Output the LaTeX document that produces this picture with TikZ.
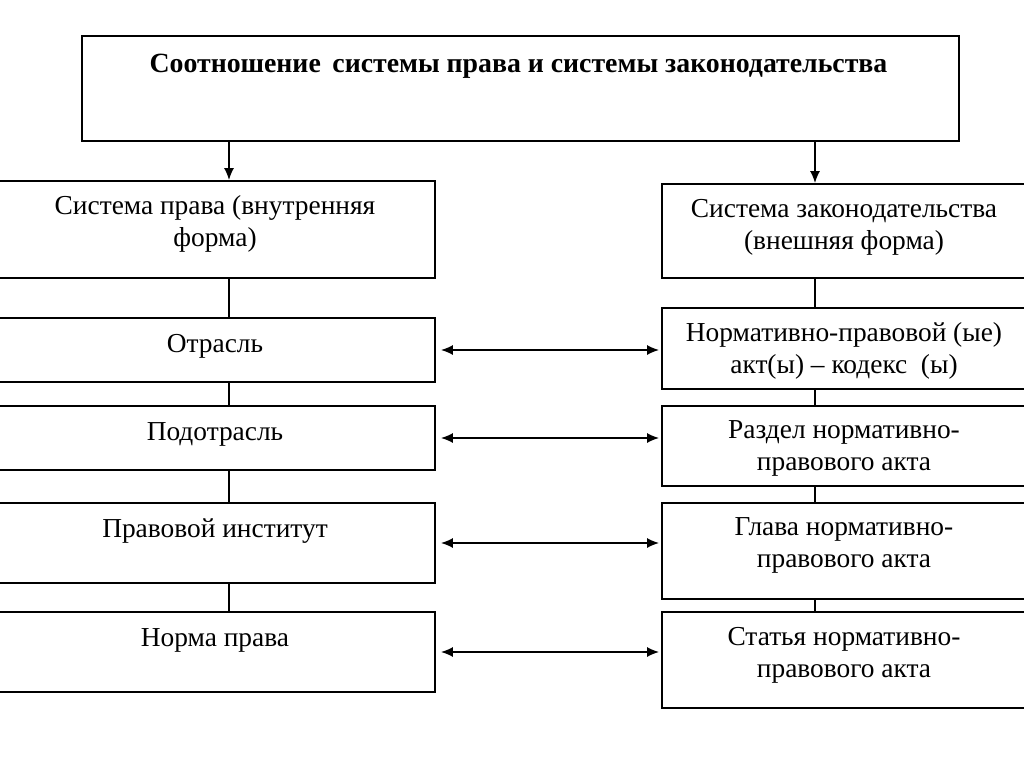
\documentclass[tikz,border=0pt]{standalone}
\usepackage{fontspec}
\setmainfont{Liberation Serif}
\usetikzlibrary{arrows.meta}
\tikzset{
  lbox/.style={draw, line width=.9pt, minimum width=220pt, inner sep=0pt},
  rbox/.style={draw, line width=.9pt, minimum width=182pt, inner sep=0pt},
  txt/.style={anchor=north, inner sep=0pt, align=center, yshift=-7.5pt,
    execute at begin node=\rule{0pt}{10pt}, font=\fontsize{13.7}{16}\selectfont},
}
\begin{document}
\begin{tikzpicture}[x=.5pt, y=-.5pt, >={Latex[length=6pt,width=5pt]}, line width=.8pt]
\useasboundingbox (0,0) rectangle (1024,767);
% header
\node[draw, line width=.9pt, minimum width=438.5pt, minimum height=52.5pt, inner sep=0pt] (top) at (520.5,88.5) {};
\node[txt, font=\fontsize{13.9}{16}\bfseries, yshift=-1pt] (topT) at ([xshift=-1pt]top.north) {Соотношение\, системы права и системы законодательства};
% left column
\node[lbox, minimum height=48.5pt] (sp) at (215,229.5) {};
\node[lbox, minimum height=32pt] (otr) at (215,350) {};
\node[lbox, minimum height=32pt] (potr) at (215,438) {};
\node[lbox, minimum height=40pt] (inst) at (215,543) {};
\node[lbox, minimum height=40pt] (norm) at (215,652) {};
\node[txt] (spT) at (sp.north) {Система права (внутренняя\\форма)};
\node[txt] (otrT) at (otr.north) {Отрасль};
\node[txt] (potrT) at (potr.north) {Подотрасль};
\node[txt] (instT) at (inst.north) {Правовой институт};
\node[txt] (normT) at (norm.north) {Норма права};
% right column
\node[rbox, minimum height=47pt] (sz) at (844,231) {};
\node[rbox, minimum height=40.5pt] (npa) at (844,348.5) {};
\node[rbox, minimum height=40pt] (razd) at (844,446) {};
\node[rbox, minimum height=48pt] (glava) at (844,551) {};
\node[rbox, minimum height=48pt] (stat) at (844,660) {};
\node[txt] (szT) at (sz.north) {Система законодательства\\(внешняя форма)};
\node[txt] (npaT) at (npa.north) {Нормативно-правовой (ые)\\акт(ы) – кодекс\ \ (ы)};
\node[txt] (razdT) at (razd.north) {Раздел нормативно-\\правового акта};
\node[txt] (glavaT) at (glava.north) {Глава нормативно-\\правового акта};
\node[txt] (statT) at (stat.north) {Статья нормативно-\\правового акта};
% connectors
\coordinate (lx) at (229,0);
\coordinate (rx) at (815,0);
\draw[->] (top.south -| lx) -- (sp.north -| lx);
\draw[->] (top.south -| rx) -- (sz.north -| rx);
\foreach \a/\b in {sp/otr, otr/potr, potr/inst, inst/norm}
  \draw (\a.south -| lx) -- (\b.north -| lx);
\foreach \a/\b in {sz/npa, npa/razd, razd/glava, glava/stat}
  \draw (\a.south -| rx) -- (\b.north -| rx);
\foreach \l/\r in {otr/npa, potr/razd, inst/glava, norm/stat}
  \draw[<->, shorten <=2.5pt, shorten >=1pt] (\l.east) -- (\l.east -| \r.west);
\end{tikzpicture}
\end{document}
